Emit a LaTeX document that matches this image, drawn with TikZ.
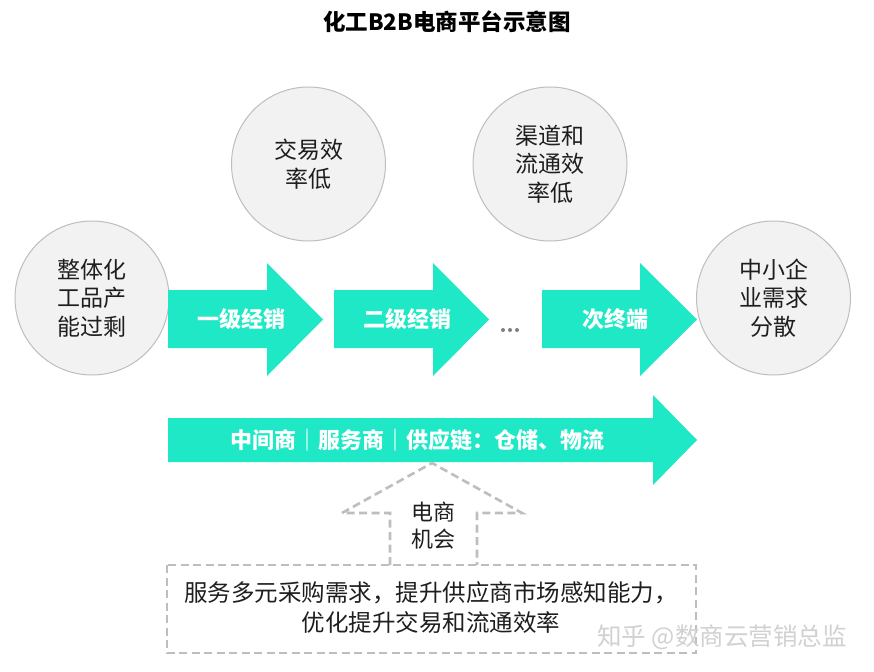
\documentclass[tikz,border=0pt]{standalone}
\usepackage{fontspec}
\setmainfont{Noto Sans CJK SC}
\definecolor{arrowteal}{RGB}{30,232,197}
\definecolor{bubblefill}{RGB}{242,242,242}
\definecolor{bubbleline}{RGB}{190,190,190}
\definecolor{dashgray}{RGB}{190,190,190}
\definecolor{textdark}{RGB}{30,30,30}
\begin{document}
\begin{tikzpicture}[x=1pt,y=-1pt,
  bubble/.style={circle,draw=bubbleline,line width=1pt,fill=bubblefill,minimum size=154pt,inner sep=0pt,align=center,text=textdark,font=\fontsize{23}{28.5}\selectfont},
  flowarrow/.style={fill=arrowteal},
  arrowlabel/.style={text=white,font=\fontsize{22}{26}\selectfont\bfseries,inner sep=0pt},
  dashbox/.style={draw=dashgray,line width=2.6pt,dash pattern=on 8pt off 4.5pt},
  plaintext/.style={text=textdark,align=center,inner sep=0pt,font=\fontsize{23.5}{30}\selectfont}
]
\useasboundingbox (0,0) rectangle (874,671);
\fill[white] (0,0) rectangle (874,671);

% title
\node[font=\fontsize{22.5}{26}\selectfont\bfseries,inner sep=0pt] (title) at (447,22) {化工B2B电商平台示意图};

% circles
\node[bubble] (c1) at (92,298) {整体化\\工品产\\能过剩};
\node[bubble] (c2) at (308.5,164) {交易效\\率低};
\node[bubble] (c3) at (550,164) {渠道和\\流通效\\率低};
\node[bubble] (c4) at (773.5,298) {中小企\\业需求\\分散};

% flow arrows
\fill[flowarrow] (168,290) -- (267,290) -- (267,263) -- (323,319.5) -- (267,376) -- (267,348) -- (168,348) -- cycle;
\fill[flowarrow] (334,290) -- (433,290) -- (433,263) -- (489,319.5) -- (433,376) -- (433,348) -- (334,348) -- cycle;
\fill[flowarrow] (542,290) -- (640,290) -- (640,263) -- (697,319.5) -- (640,376) -- (640,348) -- (542,348) -- cycle;
\node[arrowlabel] (a1) at (241,319) {一级经销};
\node[arrowlabel] (a2) at (407,319) {二级经销};
\node[arrowlabel] (a3) at (615,319) {次终端};

% dots
\fill[gray] (503,330) circle (2pt) (510,330) circle (2pt) (517,330) circle (2pt);

% long arrow
\fill[flowarrow] (168,418) -- (653,418) -- (653,395) -- (697,440) -- (653,485) -- (653,462) -- (168,462) -- cycle;
\node[arrowlabel,font=\fontsize{22}{25}\selectfont\bfseries] (a4) at (417,440) {中间商｜服务商｜供应链：仓储、物流};

% dashed up arrow
\draw[dashbox,line join=miter] (390,565) -- (390,513) -- (342,513) -- (432,463) -- (522,513) -- (477,513) -- (477,565);
\node[plaintext,font=\fontsize{22}{27}\selectfont] (opp) at (433,526) {电商\\机会};

% dashed box
\draw[dashbox] (167,565) rectangle (696,653);
\node[plaintext] (desc) at (431,608) {服务多元采购需求，提升供应商市场感知能力，\\优化提升交易和流通效率};

% watermark
\node[inner sep=0pt,text=black!18,font=\fontsize{24.5}{28}\selectfont] (wm) at (722,637) {知乎 @数商云营销总监};
\end{tikzpicture}
\end{document}
